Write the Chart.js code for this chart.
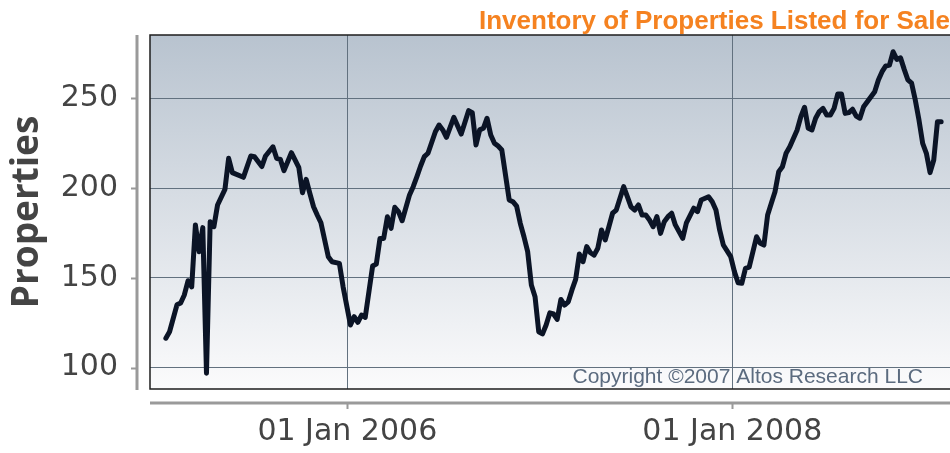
<!DOCTYPE html>
<html>
<head>
<meta charset="utf-8">
<script src="https://cdn.jsdelivr.net/npm/chart.js@4.4.0/dist/chart.umd.min.js"></script>
<style>
	html, body { margin: 0; padding: 0; background: #fff; }
</style>
</head>
<body>
<canvas id="canvas" width="950" height="453"></canvas>
<script>
// weekly listing counts, week 0 = 22 Jan 2005
var firstWeek = '2005-01-22';
var weekNo = [
	0, 1, 3, 4, 5, 6, 7, 8, 9, 10, 11, 12, 13, 14, 16, 17, 18, 21, 23, 24,
	26, 27, 29, 30, 31, 32, 34, 36, 37, 38, 39, 40, 41, 42, 44, 45, 47, 48, 50, 51,
	52, 53, 54, 56, 57, 58, 59, 60, 61, 62, 63, 64, 66, 67, 68, 69, 70, 71, 73, 74,
	75, 76, 78, 80, 82, 83, 84, 85, 86, 87, 88, 89, 90, 91, 93, 94, 95, 96, 97, 98,
	99, 100, 101, 102, 103, 104, 105, 106, 107, 108, 109, 110, 111, 112, 113, 114, 115, 116, 117, 118,
	119, 120, 121, 122, 124, 125, 126, 127, 128, 129, 130, 131, 132, 133, 134, 135, 136, 137, 138, 140,
	141, 143, 144, 145, 147, 148, 149, 150, 151, 153, 154, 155, 156, 157, 158, 160, 161, 162, 163, 164,
	165, 166, 167, 168, 169, 171, 172, 173, 174, 175, 176, 177, 178, 179, 180, 181, 182, 183, 184, 185,
	186, 187, 188, 189, 191, 192, 193, 194, 195, 196, 197, 198, 199, 200, 201, 202, 203, 204, 205, 206,
	207, 208, 209, 210
];
var inventory = [
	116.4, 120, 135, 136, 140.5, 148.4, 145, 179.5, 164.6, 178, 96.9, 181.3, 178.5, 190.6, 199.3, 216.6, 208.6, 206, 217.9, 217.5,
	212, 217.9, 223, 216.6, 216, 209.7, 219.7, 211.6, 197.4, 204.9, 197, 189.6, 185, 180.7, 161.8, 159, 158.1, 145.1, 123.8, 128.4,
	125.3, 129.3, 128, 156.6, 157.7, 172, 172, 184, 177.6, 189.3, 186.9, 181.8, 196.2, 200.8, 206.4, 212.3, 217.5, 219.4, 231.4, 235.1,
	232.4, 228.3, 239.4, 230.1, 243.1, 242, 224, 232.4, 233.3, 238.9, 229.6, 225, 223.4, 221.2, 193.4, 192.4, 190, 180.4, 172.9, 164.6,
	146, 139.5, 120, 118.8, 123.8, 130.5, 129.9, 126.9, 138, 134.9, 136.7, 143.3, 149.2, 163.3, 159, 167.4, 164, 162.7, 166.5, 176.7,
	171.1, 178.5, 186, 187.8, 200.8, 195.2, 189.6, 187.8, 190.6, 185, 185, 182.2, 178.5, 184.1, 174.8, 181.3, 184.1, 186, 179.5, 172,
	180.7, 188.8, 186.9, 193.4, 195.2, 192.4, 187.8, 176.7, 168.3, 161.8, 153.5, 147.3, 147, 155.3, 156, 172.9, 169.3, 168.3, 185, 191.5,
	198, 209.1, 211.9, 219.4, 223, 232.4, 239.8, 245, 233.3, 232.4, 238.9, 242.6, 244.4, 240.7, 240.7, 244.4, 252.4, 252.4, 241.6, 242,
	243.9, 240.1, 238.9, 245.3, 250.9, 253.7, 260.2, 264.8, 268, 268.5, 275.9, 271.7, 272.5, 266.1, 260.2, 258.4, 249, 237.9, 224.9, 219.4,
	208.6, 215.6, 237, 237
];
var yTicks = [100, 150, 200, 250];
var xTicks = ['2006-01-01', '2008-01-01'];

var DAY = 86400000;
var base = Date.parse('2006-01-01');
var months = ['Jan', 'Feb', 'Mar', 'Apr', 'May', 'Jun', 'Jul', 'Aug', 'Sep', 'Oct', 'Nov', 'Dec'];

function toDay(str) {
	return (Date.parse(str) - base) / DAY;
}

function fmtDay(v) {
	var d = new Date(base + v * DAY);
	return ('0' + d.getUTCDate()).slice(-2) + ' ' + months[d.getUTCMonth()] + ' ' + d.getUTCFullYear();
}

var start = toDay(firstWeek);
var points = weekNo.map(function(w, i) {
	return { x: start + w * 7, y: inventory[i] };
});

var frame = {
	id: 'frame',
	beforeDraw: function(chart) {
		var a = chart.chartArea, ctx = chart.ctx;
		var g = ctx.createLinearGradient(0, a.top, 0, a.bottom);
		g.addColorStop(0, '#b8c3cf');
		g.addColorStop(1, '#fbfbfc');
		ctx.save();
		ctx.fillStyle = g;
		ctx.fillRect(a.left, a.top, a.right - a.left, a.bottom - a.top);
		ctx.restore();
	},
	beforeDatasetsDraw: function(chart) {
		var a = chart.chartArea, ctx = chart.ctx;
		ctx.save();
		ctx.fillStyle = '#5b6b7f';
		ctx.font = '21px "Liberation Sans", Arial, sans-serif';
		ctx.textAlign = 'right';
		ctx.textBaseline = 'alphabetic';
		ctx.fillText('Copyright \u00a92007 Altos Research LLC', a.right - 27, a.bottom - 6);
		ctx.restore();
	},
	afterDraw: function(chart) {
		var a = chart.chartArea, ctx = chart.ctx;
		var xs = chart.scales.x, ys = chart.scales.y;
		ctx.save();
		// plot frame
		ctx.strokeStyle = '#1e1e1e';
		ctx.lineWidth = 1.5;
		ctx.beginPath();
		ctx.moveTo(a.right, a.top);
		ctx.lineTo(a.left, a.top);
		ctx.lineTo(a.left, a.bottom);
		ctx.lineTo(a.right, a.bottom);
		ctx.stroke();

		// detached axis lines
		ctx.strokeStyle = '#9a9a9a';
		ctx.lineWidth = 3;
		ctx.beginPath();
		ctx.moveTo(a.left - 13, a.top);
		ctx.lineTo(a.left - 13, a.bottom + 1);
		ctx.moveTo(a.left, a.bottom + 14);
		ctx.lineTo(a.right, a.bottom + 14);
		ctx.stroke();

		ctx.lineWidth = 2;
		ctx.beginPath();
		ys.ticks.forEach(function(t) {
			var py = Math.round(ys.getPixelForValue(t.value)) + 0.5;
			ctx.moveTo(a.left - 19, py);
			ctx.lineTo(a.left - 13, py);
		});
		xs.ticks.forEach(function(t) {
			var px = Math.round(xs.getPixelForValue(t.value)) + 0.5;
			ctx.moveTo(px, a.bottom + 14);
			ctx.lineTo(px, a.bottom + 20);
		});
		ctx.stroke();
		ctx.restore();
	}
};

var ctx = document.getElementById('canvas').getContext('2d');
var chart = new Chart(ctx, {
	type: 'line',
	data: {
		datasets: [{
			data: points,
			borderColor: '#0b1426',
			borderWidth: 5,
			borderJoinStyle: 'round',
			borderCapStyle: 'round',
			pointRadius: 0,
			tension: 0,
			fill: false
		}]
	},
	options: {
		responsive: false,
		animation: false,
		devicePixelRatio: 1,
		layout: { padding: 0 },
		plugins: {
			legend: { display: false },
			tooltip: { enabled: false },
			title: {
				display: true,
				text: 'Inventory of Properties Listed for Sale',
				align: 'end',
				color: '#f58220',
				font: { family: 'Liberation Sans', size: 26, weight: 'bold', lineHeight: 1 },
				padding: { top: 9, bottom: 0 }
			}
		},
		scales: {
			x: {
				type: 'linear',
				min: -374.1,
				max: 1142.8,
				afterBuildTicks: function(s) {
					s.ticks = xTicks.map(function(d) { return { value: toDay(d) }; });
				},
				afterFit: function(s) {
					s.height = 64;
					s.paddingLeft = 0;
					s.paddingRight = 0;
				},
				grid: { color: '#62717f', lineWidth: 1, drawTicks: false },
				border: { display: false },
				ticks: {
					padding: 25,
					color: '#444',
					maxRotation: 0,
					autoSkip: false,
					font: { family: 'DejaVu Sans', size: 30 },
					callback: function(v) { return fmtDay(v); }
				}
			},
			y: {
				min: 88.14,
				max: 285.24,
				afterBuildTicks: function(s) {
					s.ticks = yTicks.map(function(v) { return { value: v }; });
				},
				afterFit: function(s) {
					s.width = 150;
					s.paddingTop = 0;
					s.paddingBottom = 0;
				},
				grid: { color: '#62717f', lineWidth: 1, drawTicks: false },
				border: { display: false },
				ticks: {
					padding: 32,
					color: '#444',
					font: { family: 'DejaVu Sans', size: 30 }
				},
				title: {
					display: true,
					text: 'Properties',
					color: '#444',
					font: { family: 'Open Sans', size: 37, weight: 'bold' },
					padding: { top: 5 }
				}
			}
		}
	},
	plugins: [frame]
});
</script>
</body>
</html>
